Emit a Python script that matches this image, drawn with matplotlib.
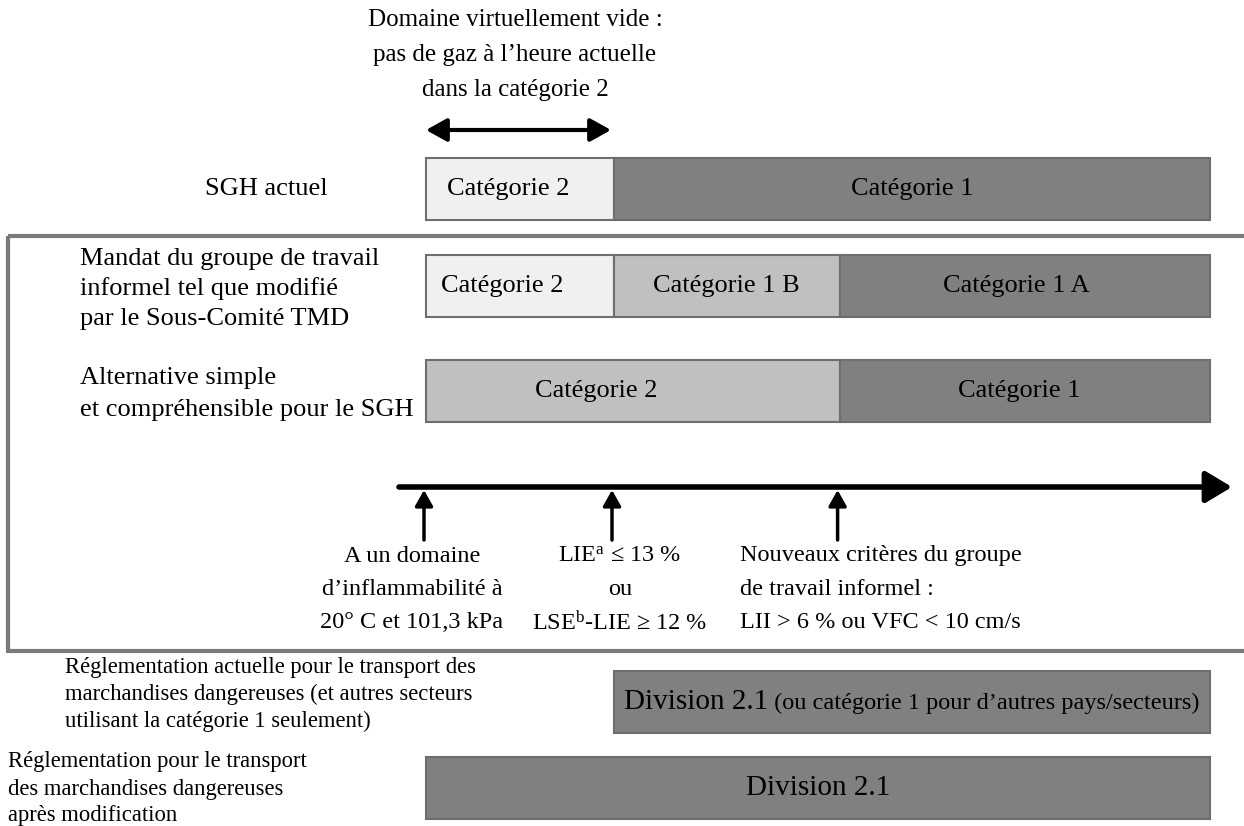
import matplotlib
matplotlib.use("Agg")
import matplotlib.pyplot as plt
from matplotlib.patches import Rectangle, FancyArrowPatch

plt.rcParams['font.family'] = ['Liberation Serif', 'DejaVu Serif']
plt.rcParams['mathtext.fontset'] = 'custom'
plt.rcParams['mathtext.rm'] = 'Liberation Serif'
plt.rcParams['mathtext.it'] = 'Liberation Serif:italic'

# ---------------- data ----------------
title_lines = ["Domaine virtuellement vide :",
               "pas de gaz à l’heure actuelle",
               "dans la catégorie 2"]

# schematic flammability scale (criteria positions in scale units)
criteria_positions = [0.0, 1.0, 2.2]
scale_end = 4.17
criteria_labels = [
    ["A un domaine", "d’inflammabilité à", "20° C et 101,3 kPa"],
    ["LIE$^{\\rm a}$ ≤ 13 %", "ou", "LSE$^{\\rm b}$-LIE ≥ 12 %"],
    ["Nouveaux critères du groupe", "de travail informel :",
     "LII > 6 % ou VFC < 10 cm/s"],
]

row_labels = [
    ["SGH actuel"],
    ["Mandat du groupe de travail", "informel tel que modifié",
     "par le Sous-Comité TMD"],
    ["Alternative simple", "et compréhensible pour le SGH"],
]
row_segment_labels = [
    ["Catégorie 2", "Catégorie 1"],
    ["Catégorie 2", "Catégorie 1 B", "Catégorie 1 A"],
    ["Catégorie 2", "Catégorie 1"],
]
row_breaks = [
    [0.0, 1.0, scale_end],
    [0.0, 1.0, 2.2, scale_end],
    [0.0, 2.2, scale_end],
]
row_shades = [[0, 2], [0, 1, 2], [1, 2]]

transport_labels = [
    ["Réglementation actuelle pour le transport des",
     "marchandises dangereuses (et autres secteurs",
     "utilisant la catégorie 1 seulement)"],
    ["Réglementation pour le transport",
     "des marchandises dangereuses",
     "après modification"],
]
transport_breaks = [[1.0, scale_end], [0.0, scale_end]]
transport_main = ["Division 2.1", "Division 2.1"]
transport_note = [" (ou catégorie 1 pour d’autres pays/secteurs)", ""]

# ---------------- styles / layout ----------------
shade_colors = ['#f0f0f0', '#c0c0c0', '#808080']
edge_color = '#6e6e6e'
W, H = 1244, 826
X0, UNIT = 426, 188.0          # pixel origin and size of one scale unit
seg_label_shift = [[-12, 0], [-18, 0, -8], [-37, -6]]


def X(u):
    return X0 + UNIT * u


fig = plt.figure(figsize=(W / 100, H / 100), dpi=100)
ax = fig.add_axes([0, 0, 1, 1])
ax.set_xlim(0, W)
ax.set_ylim(H, 0)
ax.axis('off')

# title
for i, line in enumerate(title_lines):
    ax.text(515, 20 + 35 * i, line, ha='center', va='center', fontsize=18)

# double arrow over the virtually empty domain
ax.add_patch(FancyArrowPatch((X(criteria_positions[0]), 130),
                             (X(criteria_positions[1]) - 3, 130),
                             arrowstyle='<|-|>,head_length=0.9,head_width=0.5',
                             mutation_scale=14, lw=3, color='black',
                             shrinkA=0, shrinkB=0))

# frame
ax.add_patch(Rectangle((8, 236), 1300, 415, fill=False,
                       edgecolor='#7a7a7a', lw=3))

# GHS rows
row_y = [189, 286, 391]
bar_h = 62
label_x = [205, 80, 80]
label_pitch = [0, 30, 32]
label_dy = [0, 3, 3]
for r in range(len(row_labels)):
    br = row_breaks[r]
    lefts = [X(b) for b in br[:-1]]
    widths = [X(br[k + 1]) - X(br[k]) for k in range(len(br) - 1)]
    cols = [shade_colors[s] for s in row_shades[r]]
    ax.barh([row_y[r]] * len(lefts), widths, left=lefts, height=bar_h,
            color=cols, edgecolor=edge_color, linewidth=1.5)
    for k, lab in enumerate(row_segment_labels[r]):
        ax.text(lefts[k] + widths[k] / 2 + seg_label_shift[r][k], row_y[r],
                lab, ha='center', va='center', fontsize=19)
    lines = row_labels[r]
    n = len(lines)
    for j, line in enumerate(lines):
        y = row_y[r] + (j - (n - 1) / 2) * label_pitch[r] + label_dy[r]
        ax.text(label_x[r], y, line, ha='left', va='center', fontsize=19)

# flammability axis
ax.add_patch(FancyArrowPatch((399, 487), (1232, 487),
                             arrowstyle='-|>,head_length=1.0,head_width=0.6',
                             mutation_scale=16, lw=4, color='black',
                             shrinkA=0, shrinkB=0))
for p in criteria_positions:
    ax.add_patch(FancyArrowPatch((X(p) - 2, 540), (X(p) - 2, 490),
                                 arrowstyle='-|>,head_length=0.8,head_width=0.45',
                                 mutation_scale=12, lw=2.5, color='black',
                                 shrinkA=0, shrinkB=0))

crit_anchor = [(412, 'center'), (620, 'center'), (740, 'left')]
for lines, (cx, ha) in zip(criteria_labels, crit_anchor):
    for j, line in enumerate(lines):
        ax.text(cx, 556 + 33.5 * j, line, ha=ha, va='center', fontsize=17.5)

# transport rows
t_y = [702, 788]
t_label_x = [65, 8]
t_label_y0 = [667, 762]
fig.canvas.draw()
renderer = fig.canvas.get_renderer()
for r in range(len(transport_labels)):
    br = transport_breaks[r]
    left, width = X(br[0]), X(br[1]) - X(br[0])
    ax.barh([t_y[r]], [width], left=[left], height=bar_h,
            color=shade_colors[2], edgecolor=edge_color, linewidth=1.5)
    for j, line in enumerate(transport_labels[r]):
        ax.text(t_label_x[r], t_label_y0[r] + 27 * j, line, ha='left',
                va='center', fontsize=16.3)
    cx = left + width / 2
    if transport_note[r]:
        t1 = ax.text(0, t_y[r], transport_main[r], ha='left', va='center',
                     fontsize=21)
        t2 = ax.text(0, t_y[r] + 1, transport_note[r], ha='left',
                     va='center', fontsize=17.5)
        w1 = t1.get_window_extent(renderer).width
        w2 = t2.get_window_extent(renderer).width
        start = cx - (w1 + w2) / 2
        t1.set_x(start)
        t2.set_x(start + w1)
    else:
        ax.text(cx, t_y[r], transport_main[r], ha='center', va='center',
                fontsize=21)

fig.savefig('out.png', dpi=100)
